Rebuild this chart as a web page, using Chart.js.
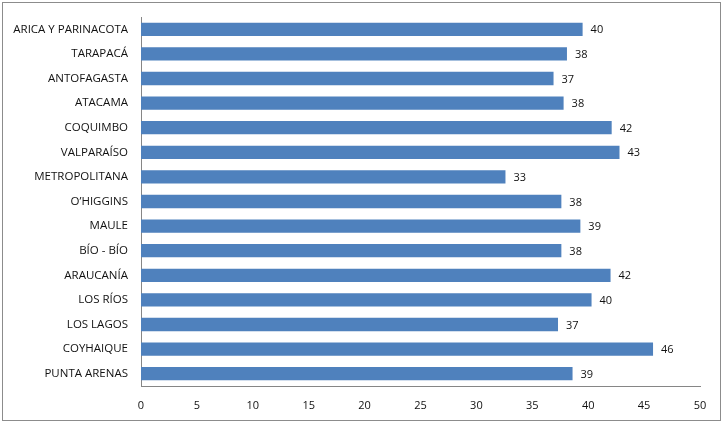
<!DOCTYPE html>
<html>
<head>
<meta charset="utf-8">
<script src="https://cdn.jsdelivr.net/npm/chart.js@4.4.0/dist/chart.umd.min.js"></script>
<style>
  body { margin: 0; background: #fff; }
  #wrap {
    position: absolute; left: 2px; top: 2px;
    width: 717px; height: 417px;
    border: 1px solid #8c8c8c;
  }
</style>
</head>
<body>
<div id="wrap"><canvas id="regionChart"></canvas></div>
<script>
// regions, top to bottom
const regions = [
  "ARICA Y PARINACOTA", "TARAPACÁ", "ANTOFAGASTA", "ATACAMA", "COQUIMBO",
  "VALPARAÍSO", "METROPOLITANA", "O’HIGGINS", "MAULE", "BÍO - BÍO",
  "ARAUCANÍA", "LOS RÍOS", "LOS LAGOS", "COYHAIQUE", "PUNTA ARENAS"
];
const values = [39.5, 38.1, 36.9, 37.8, 42.1, 42.8, 32.6, 37.6, 39.3, 37.6, 42.0, 40.3, 37.3, 45.8, 38.6];
const xTicks = [0, 5, 10, 15, 20, 25, 30, 35, 40, 45, 50];

const fontSize = 11;

//value labels at the end of each bar
const barLabels = {
  id: "barLabels",
  afterDatasetsDraw(chart) {
    const ctx = chart.ctx;
    const meta = chart.getDatasetMeta(0);
    ctx.save();
    ctx.font = fontSize + "px 'Open Sans'";
    ctx.fillStyle = "#111";
    ctx.textAlign = "left";
    ctx.textBaseline = "middle";
    meta.data.forEach((bar, i) => {
      ctx.fillText(Math.round(values[i]), bar.x + 8, bar.y + 1);
    });
    ctx.restore();
  }
};

const ctx = document.getElementById("regionChart");
new Chart(ctx, {
  type: "bar",
  data: {
    labels: regions,
    datasets: [{
      data: values,
      backgroundColor: "#4F81BD",
      borderWidth: 0,
      barPercentage: 0.9,
      categoryPercentage: 0.6,
    }],
  },
  plugins: [barLabels],
  options: {
    indexAxis: "y",
    responsive: true,
    maintainAspectRatio: false,
    animation: false,
    layout: { padding: { top: 14, right: 20, left: 0, bottom: 0 } },
    plugins: {
      legend: { display: false },
      tooltip: { enabled: false },
    },
    scales: {
      x: {
        min: 0,
        max: 50,
        afterBuildTicks: (scale) => { scale.ticks = xTicks.map(v => ({ value: v })); },
        afterFit: (scale) => { scale.height = 34; },
        grid: { display: false, drawTicks: false },
        border: { display: true, color: "#868686", width: 1 },
        ticks: { padding: 13, color: "#111", font: { family: "Open Sans", size: fontSize }, maxRotation: 0 },
      },
      y: {
        afterFit: (scale) => {
          scale.width = 138;
          scale.paddingTop = 0;
          scale.paddingBottom = 0;
        },
        grid: { display: false, drawTicks: false },
        border: { display: true, color: "#868686", width: 1 },
        ticks: { padding: 13, color: "#111", font: { family: "Open Sans", size: 11.5 }, autoSkip: false },
      },
    },
  },
});
</script>
</body>
</html>
